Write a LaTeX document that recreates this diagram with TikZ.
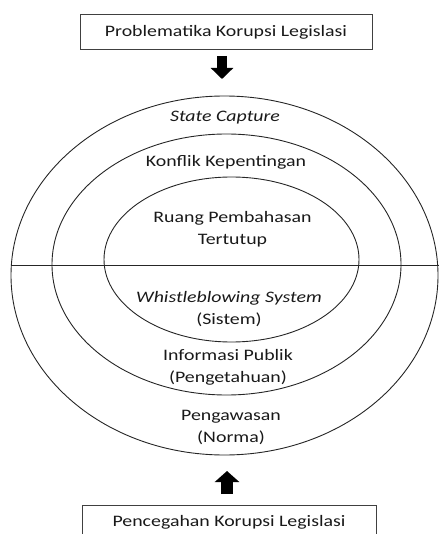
\documentclass[tikz,border=0pt]{standalone}
\usepackage{fontspec}
\usepackage{graphicx}
\setmainfont{Carlito}
\usetikzlibrary{arrows.meta}
\newcommand{\stretchtxt}[1]{\scalebox{1.24}[1]{#1}}
\begin{document}
\begin{tikzpicture}[x=1pt,y=-1pt,
  txt/.style={font=\fontsize{16}{22}\selectfont, align=center, inner sep=0pt, text=black!90},
  ring/.style={draw=black!85, line width=0.9pt},
  boxstyle/.style={draw=black!75, line width=1pt, minimum width=292pt, minimum height=35pt, inner sep=0pt},
  blockarrow/.style={line width=10pt, -{Triangle[width=22pt,length=11pt]}}]
\useasboundingbox (0,0) rectangle (439,534);
% boxes
\node[boxstyle, txt] (top) at (226,32.5) {\stretchtxt{Problematika Korupsi Legislasi}};
\node[boxstyle, txt, minimum width=294pt, minimum height=40pt] (bot) at (229,525) {\raisebox{9pt}{\stretchtxt{Pencegahan Korupsi Legislasi}}};
% ellipses
\coordinate (co) at (224.5,275.5);
\coordinate (cm) at (226.5,264.5);
\coordinate (ci) at (231.5,259.5);
\draw[ring] (co) ellipse [x radius=213.5, y radius=179.5];
\draw[ring] (cm) ellipse [x radius=174.5, y radius=130.5];
\draw[ring] (ci) ellipse [x radius=127.5, y radius=82.5];
\coordinate (lineL) at (11,265.5);
\coordinate (lineR) at (439,265.5);
\draw[ring] (lineL) -- (lineR);
% arrows
\coordinate (dA) at (222,56);
\coordinate (dB) at (222,79);
\draw[blockarrow] (dA) -- (dB);
\coordinate (uA) at (227,494);
\coordinate (uB) at (227,471);
\draw[blockarrow, line width=12pt, -{Triangle[width=24pt,length=11pt]}] (uA) -- (uB);
% labels
\node[txt] (sc) at (225,118) {\stretchtxt{\itshape State Capture}};
\node[txt] (kk) at (226,162) {\stretchtxt{Konflik Kepentingan}};
\node[txt] (rp) at (232.5,229) {\stretchtxt{Ruang Pembahasan}\\\stretchtxt{Tertutup}};
\node[txt] (wb) at (229,309) {\stretchtxt{\itshape Whistleblowing System}\\\stretchtxt{(Sistem)}};
\node[txt] (ip) at (228,367.5) {\stretchtxt{Informasi Publik}\\\stretchtxt{(Pengetahuan)}};
\node[txt] (pg) at (231,427) {\stretchtxt{Pengawasan}\\\stretchtxt{(Norma)}};
\end{tikzpicture}
\end{document}
